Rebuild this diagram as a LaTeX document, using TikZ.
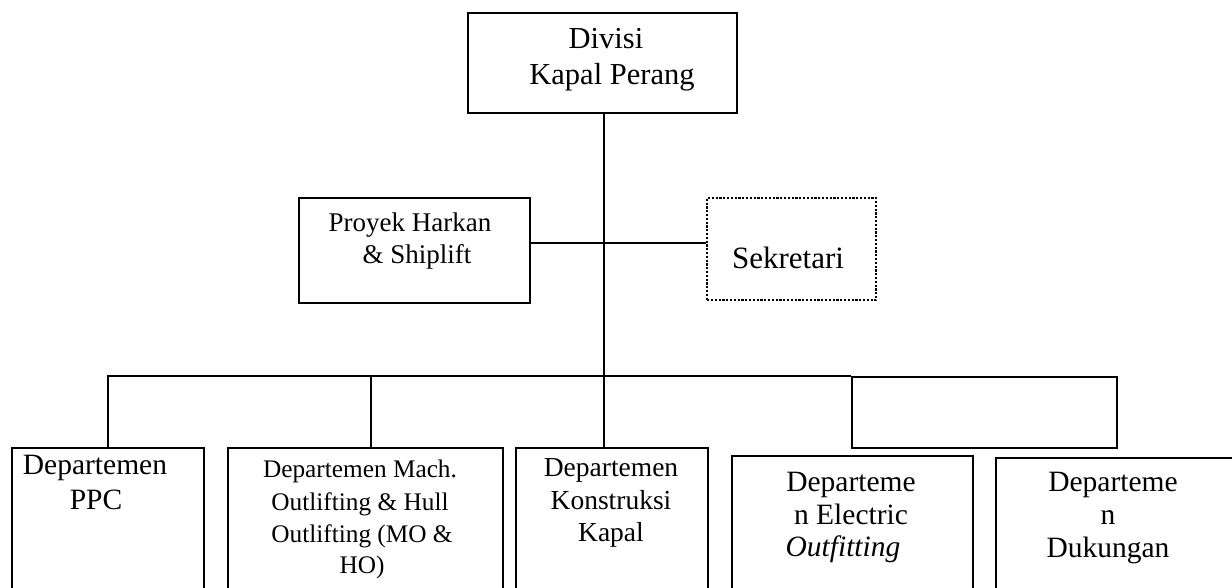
\documentclass[tikz,border=0pt]{standalone}
\usepackage{fontspec}
\setmainfont{Liberation Serif}
\begin{document}
\begin{tikzpicture}[x=1pt,y=-1pt,
  line width=2.3pt,
  box/.style={draw, rectangle, inner sep=0pt, anchor=north west},
  dotbox/.style={box, line width=2.2pt, dash pattern=on 2.2pt off 1.6pt},
  txt/.style={anchor=base, inner sep=0pt},
  fa/.style={font=\fontsize{30.5}{36}\selectfont},
  fb/.style={font=\fontsize{27}{32}\selectfont},
  fs/.style={font=\fontsize{31}{36}\selectfont},
  fc/.style={font=\fontsize{29.5}{35}\selectfont},
  fd/.style={font=\fontsize{25.3}{30}\selectfont},
  fe/.style={font=\fontsize{27.5}{32}\selectfont}]
\useasboundingbox (0,0) rectangle (1232,588);
\fill[white] (0,0) rectangle (1232,588);

% boxes
\node[box, minimum width=269pt, minimum height=100pt] (top) at (467,12) {};
\node[box, minimum width=231pt, minimum height=105pt] (proyek) at (298,197) {};
\node[dotbox, minimum width=169pt, minimum height=102pt] (sek) at (706,197) {};
\node[box, minimum width=265pt, minimum height=71pt] (rbox) at (851,376) {};
\node[box, minimum width=192pt, minimum height=160pt] (ppc) at (11,447) {};
\node[box, minimum width=275pt, minimum height=160pt] (mo) at (227,447) {};
\node[box, minimum width=192pt, minimum height=160pt] (kons) at (515,447) {};
\node[box, minimum width=241pt, minimum height=160pt] (elec) at (731,455) {};
\node[box, minimum width=250pt, minimum height=160pt] (duk) at (995,457) {};

% texts
\node[txt, fa] (t1) at (606,49) {Divisi};
\node[txt, fa] (t2) at (612,85) {Kapal Perang};
\node[txt, fb] (p1) at (410,232) {Proyek Harkan};
\node[txt, fb] (p2) at (417,264) {\& Shiplift};
\node[txt, fs] (s1) at (788,269) {Sekretari};
\node[txt, fc] (a1) at (95,474) {Departemen};
\node[txt, fc] (a2) at (96,509) {PPC};
\node[txt, fd] (b1) at (360,477) {Departemen Mach.};
\node[txt, fd] (b2) at (360,510) {Outlifting \& Hull};
\node[txt, fd] (b3) at (362,542) {Outlifting (MO \&};
\node[txt, fd] (b4) at (362,573) {HO)};
\node[txt, fe] (c1) at (611,476) {Departemen};
\node[txt, fe] (c2) at (611,509) {Konstruksi};
\node[txt, fe] (c3) at (611,541) {Kapal};
\node[txt, fc] (d1) at (851,491) {Departeme};
\node[txt, fc] (d2) at (851,524) {n Electric};
\node[txt, fc] (d3) at (843,556) {\itshape Outfitting};
\node[txt, fc] (e1) at (1113,491) {Departeme};
\node[txt, fc] (e2) at (1108,524) {n};
\node[txt, fc] (e3) at (1108,557) {Dukungan};

% connectors
\coordinate (spine) at (604,376);
\coordinate (br) at (604,243);
\draw (top.south -| spine) -- (spine);
\draw (br -| proyek.east) -- (br -| sek.west);
\draw (ppc.north) |- (rbox.north west);
\draw (mo.north -| 371,0) -- (spine -| 371,0);
\draw (kons.north -| spine) -- (spine);
\end{tikzpicture}
\end{document}
